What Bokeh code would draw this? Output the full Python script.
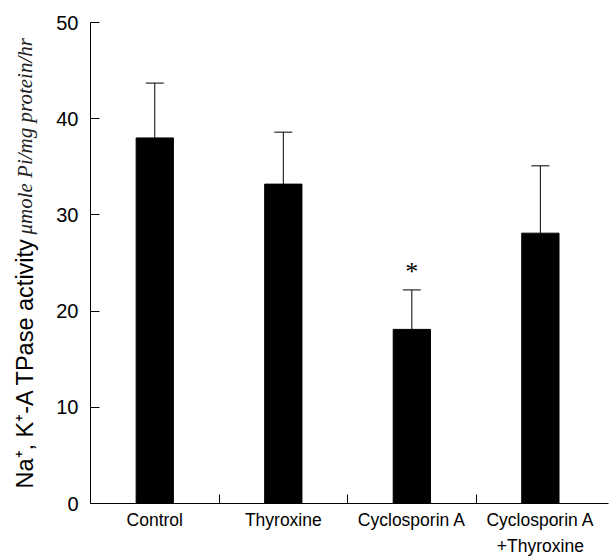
import numpy as np
from bokeh.plotting import figure
from bokeh.models import FixedTicker, Whisker, ColumnDataSource, Label, TeeHead
from bokeh.embed import file_html
from bokeh.resources import INLINE
from bokeh.core.properties import value

# ---- data ----
groups = ["Control", "Thyroxine", "Cyclosporin A", "Cyclosporin A\n+Thyroxine"]
means = [38.0, 33.2, 18.1, 28.1]
errors = [5.7, 5.4, 4.1, 7.0]
significant = [False, False, True, False]
y_ticks = [0, 10, 20, 30, 40, 50]
y_label_main = "Na\u207a, K\u207a-A TPase activity"
y_label_unit = "\u03bcmole Pi/mg protein/hr"

n = len(groups)
xc = np.arange(n) + 0.5
upper = np.array(means) + np.array(errors)
src = ColumnDataSource(dict(x=xc, mean=means, upper=upper))

W, H = 609, 558
p = figure(width=W, height=H, x_range=(0, 4.03), y_range=(0, 50),
           output_backend="svg", toolbar_location=None,
           min_border_left=90, min_border_right=1, min_border_top=22,
           min_border_bottom=50)
p.outline_line_color = None
p.xgrid.visible = False
p.ygrid.visible = False
p.background_fill_color = "white"
p.border_fill_color = "white"

p.vbar(x="x", top="mean", bottom=0, width=0.29, source=src,
       fill_color="black", line_color="black")

wh = Whisker(source=src, base="x", upper="upper", lower="mean",
             dimension="height", line_color="black", line_width=1,
             upper_head=TeeHead(size=18, line_color="black", line_width=1),
             lower_head=None)
p.add_layout(wh)

sig_idx = [i for i, s in enumerate(significant) if s]
p.text(x=[xc[i] for i in sig_idx], y=[upper[i] + 1.9 for i in sig_idx],
       text=["*"] * len(sig_idx), text_font=value("Liberation Serif"),
       text_font_size="26px", text_align="center", text_baseline="middle",
       text_color="black")

# y axis
ya = p.yaxis[0]
ya.ticker = FixedTicker(ticks=y_ticks, minor_ticks=[])
ya.major_tick_in = 9
ya.major_tick_out = 0
ya.minor_tick_line_color = None
ya.axis_line_color = "black"
ya.major_tick_line_color = "black"
ya.major_label_text_font = "Liberation Sans"
ya.major_label_text_font_size = "20px"
ya.major_label_text_color = "black"
ya.major_label_standoff = 12

# x axis: group names at centres, ticks at the boundaries
xa = p.xaxis[0]
xa.ticker = FixedTicker(ticks=list(xc), minor_ticks=list(np.arange(1, n)))
xa.major_label_overrides = {float(c): g for c, g in zip(xc, groups)}
xa.major_tick_line_color = None
xa.minor_tick_in = 9
xa.minor_tick_out = 0
xa.minor_tick_line_color = "black"
xa.axis_line_color = "black"
xa.major_label_text_font = "Liberation Sans"
xa.major_label_text_font_size = "17.5px"
xa.major_label_text_color = "black"
xa.major_label_text_line_height = 1.3
xa.major_label_standoff = 0

# y axis title in two fonts (side panel so it is not clipped)
p.add_layout(Label(x=24.5, y=488, x_units="canvas", y_units="canvas",
                   text=y_label_main, angle=90, angle_units="deg",
                   text_font="Liberation Sans", text_font_size="23.5px",
                   text_align="left", text_baseline="alphabetic", text_color="black"), "left")
p.add_layout(Label(x=24.5, y=234, x_units="canvas", y_units="canvas",
                   text=y_label_unit, angle=90, angle_units="deg",
                   text_font="Liberation Serif", text_font_style="italic",
                   text_font_size="21px",
                   text_align="left", text_baseline="alphabetic", text_color="#222222"), "left")

open("out.html", "w").write(file_html(p, INLINE))
